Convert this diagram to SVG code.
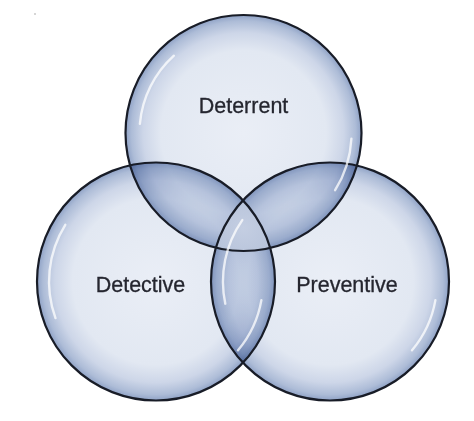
<svg xmlns="http://www.w3.org/2000/svg" width="474" height="421" viewBox="0 0 474 421">
  <style>
    .fill { mix-blend-mode: multiply; }
    .ring { fill: none; stroke: #181c27; stroke-width: 2.2; }
    .hl { fill: none; stroke: #ffffff; stroke-width: 2.4; stroke-linecap: round; opacity: 0.75; }
    .label { font-family: "Liberation Sans", Arial, sans-serif; font-size: 21.5px; fill: #25262f; stroke: #25262f; stroke-width: 0.3; text-anchor: middle; }
  </style>
  <defs>
    <radialGradient id="bubble" cx="50%" cy="50%" r="50%">
      <stop offset="0" stop-color="#eaeef6"/>
      <stop offset="0.7" stop-color="#e2e8f2"/>
      <stop offset="0.85" stop-color="#cdd6e8"/>
      <stop offset="0.95" stop-color="#adbcd7"/>
      <stop offset="1" stop-color="#8fa2c6"/>
    </radialGradient>
    <radialGradient id="core" cx="243.5" cy="228" r="45" gradientUnits="userSpaceOnUse">
      <stop offset="0" stop-color="#c4cee2"/>
      <stop offset="0.7" stop-color="#b8c4db"/>
      <stop offset="1" stop-color="#9caecc"/>
    </radialGradient>
    <clipPath id="clipTop"><circle cx="243.5" cy="133" r="118"/></clipPath>
    <clipPath id="clipLeft"><circle cx="156" cy="281.5" r="119"/></clipPath>
  </defs>
  <rect width="474" height="421" fill="#ffffff"/>
  <circle cx="35" cy="14" r="1" fill="#c8c8c8"/>

  <g id="node-deterrent">
    <circle class="fill" cx="243.5" cy="133" r="118" fill="url(#bubble)"/>
  </g>
  <g id="node-detective">
    <circle class="fill" cx="156" cy="281.5" r="119" fill="url(#bubble)"/>
  </g>
  <g id="node-preventive">
    <circle class="fill" cx="330" cy="281.5" r="119" fill="url(#bubble)"/>
  </g>

  <g id="center-overlap" clip-path="url(#clipTop)">
    <circle cx="330" cy="281.5" r="119" fill="url(#core)" clip-path="url(#clipLeft)"/>
  </g>

  <g id="connectors">
    <circle class="ring" cx="243.5" cy="133" r="118"/>
    <circle class="ring" cx="156" cy="281.5" r="119"/>
    <circle class="ring" cx="330" cy="281.5" r="119"/>
  </g>

  <g id="highlights">
    <path class="hl" d="M139.9,123.9 A104,104 0 0 1 173.9,55.7"/>
    <path class="hl" d="M351.4,138.7 A108,108 0 0 1 335.1,190.2"/>
    <path class="hl" d="M55.5,318.1 A107,107 0 0 1 65.3,224.8"/>
    <path class="hl" d="M261.4,300.1 A107,107 0 0 1 238.0,350.3"/>
    <path class="hl" d="M225.3,303.7 A107,107 0 0 1 242.3,220.1"/>
    <path class="hl" d="M435.4,300.1 A107,107 0 0 1 412.0,350.3"/>
  </g>

  <g id="labels">
    <text class="label" x="243.5" y="113">Deterrent</text>
    <text class="label" x="140.5" y="292">Detective</text>
    <text class="label" x="347" y="292">Preventive</text>
  </g>
</svg>
